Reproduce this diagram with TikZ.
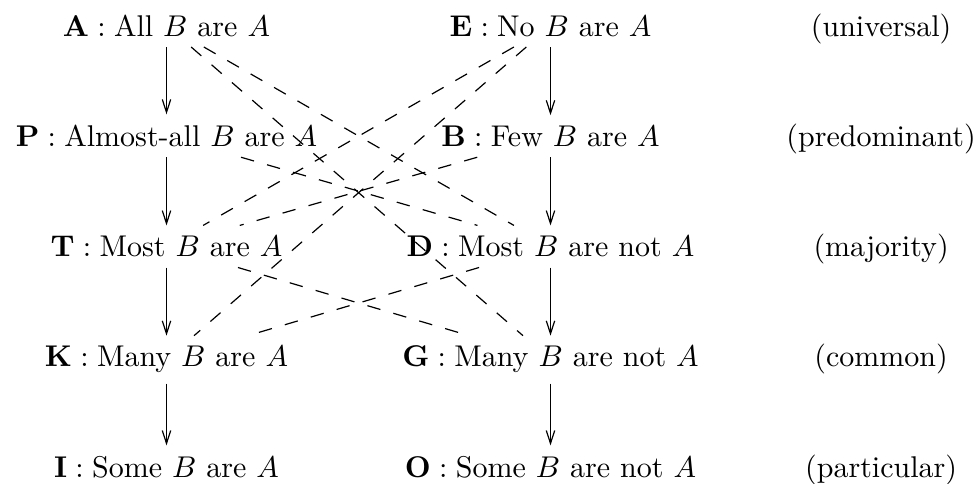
\documentclass[tikz,border=0pt]{standalone}
\usepackage{amsmath}
\usepackage{tikz}
\usetikzlibrary{arrows.meta, positioning}

\begin{document}
\begin{tikzpicture}[
        stmt/.style={anchor=base, inner sep=0.333em},
        tag/.style={anchor=base, inner sep=0.333em},
        arrow/.style={-{Straight Barb[length=4.3pt,width=2.8pt]}, thin},
        contra/.style={thin, dash pattern=on 4.5pt off 4.5pt}
    ]
    \useasboundingbox (0,0) rectangle (326.67pt,161.33pt);

    % Universal
    \node[stmt] (A) at (55.5pt,149.3pt) {$\mathbf{A}:{}$All $B$ are $A$};
    \node[stmt] (E) at (183.5pt,149.3pt) {$\mathbf{E}:{}$No $B$ are $A$};
    \node[tag] (univ) at (293.7pt,149.3pt) {(universal)};

    % Predominant
    \node[stmt] (P) at (55.5pt,112.55pt) {$\mathbf{P}:{}$Almost-all $B$ are $A$};
    \node[stmt] (B) at (183.5pt,112.55pt) {$\mathbf{B}:{}$Few $B$ are $A$};
    \node[tag] (pred) at (293.7pt,112.55pt) {(predominant)};

    % Majority
    \node[stmt] (T) at (55.5pt,75.8pt) {$\mathbf{T}:{}$Most $B$ are $A$};
    \node[stmt] (D) at (183.5pt,75.8pt) {$\mathbf{D}:{}$Most $B$ are not $A$};
    \node[tag] (maj) at (293.7pt,75.8pt) {(majority)};

    % Common
    \node[stmt] (K) at (55.5pt,39.05pt) {$\mathbf{K}:{}$Many $B$ are $A$};
    \node[stmt] (G) at (183.5pt,39.05pt) {$\mathbf{G}:{}$Many $B$ are not $A$};
    \node[tag] (comm) at (293.7pt,39.05pt) {(common)};

    % Particular
    \node[stmt] (I) at (55.5pt,2.3pt) {$\mathbf{I}:{}$Some $B$ are $A$};
    \node[stmt] (O) at (183.5pt,2.3pt) {$\mathbf{O}:{}$Some $B$ are not $A$};
    \node[tag] (part) at (293.7pt,2.3pt) {(particular)};

    % Edges
    \draw[arrow] (A) -- (P);
    \draw[arrow] (P) -- (T);
    \draw[arrow] (T) -- (K);
    \draw[arrow] (K) -- (I);
    \draw[arrow] (E) -- (B);
    \draw[arrow] (B) -- (D);
    \draw[arrow] (D) -- (G);
    \draw[arrow] (G) -- (O);

    % Contradictories
    \draw[contra] (A) -- (D);
    \draw[contra] (A) -- (G);
    \draw[contra] (E) -- (T);
    \draw[contra] (E) -- (K);
    \draw[contra] (P) -- (D);
    \draw[contra] (B) -- (T);
    \draw[contra] (T) -- (G);
    \draw[contra] (D) -- (K);
\end{tikzpicture}
\end{document}
